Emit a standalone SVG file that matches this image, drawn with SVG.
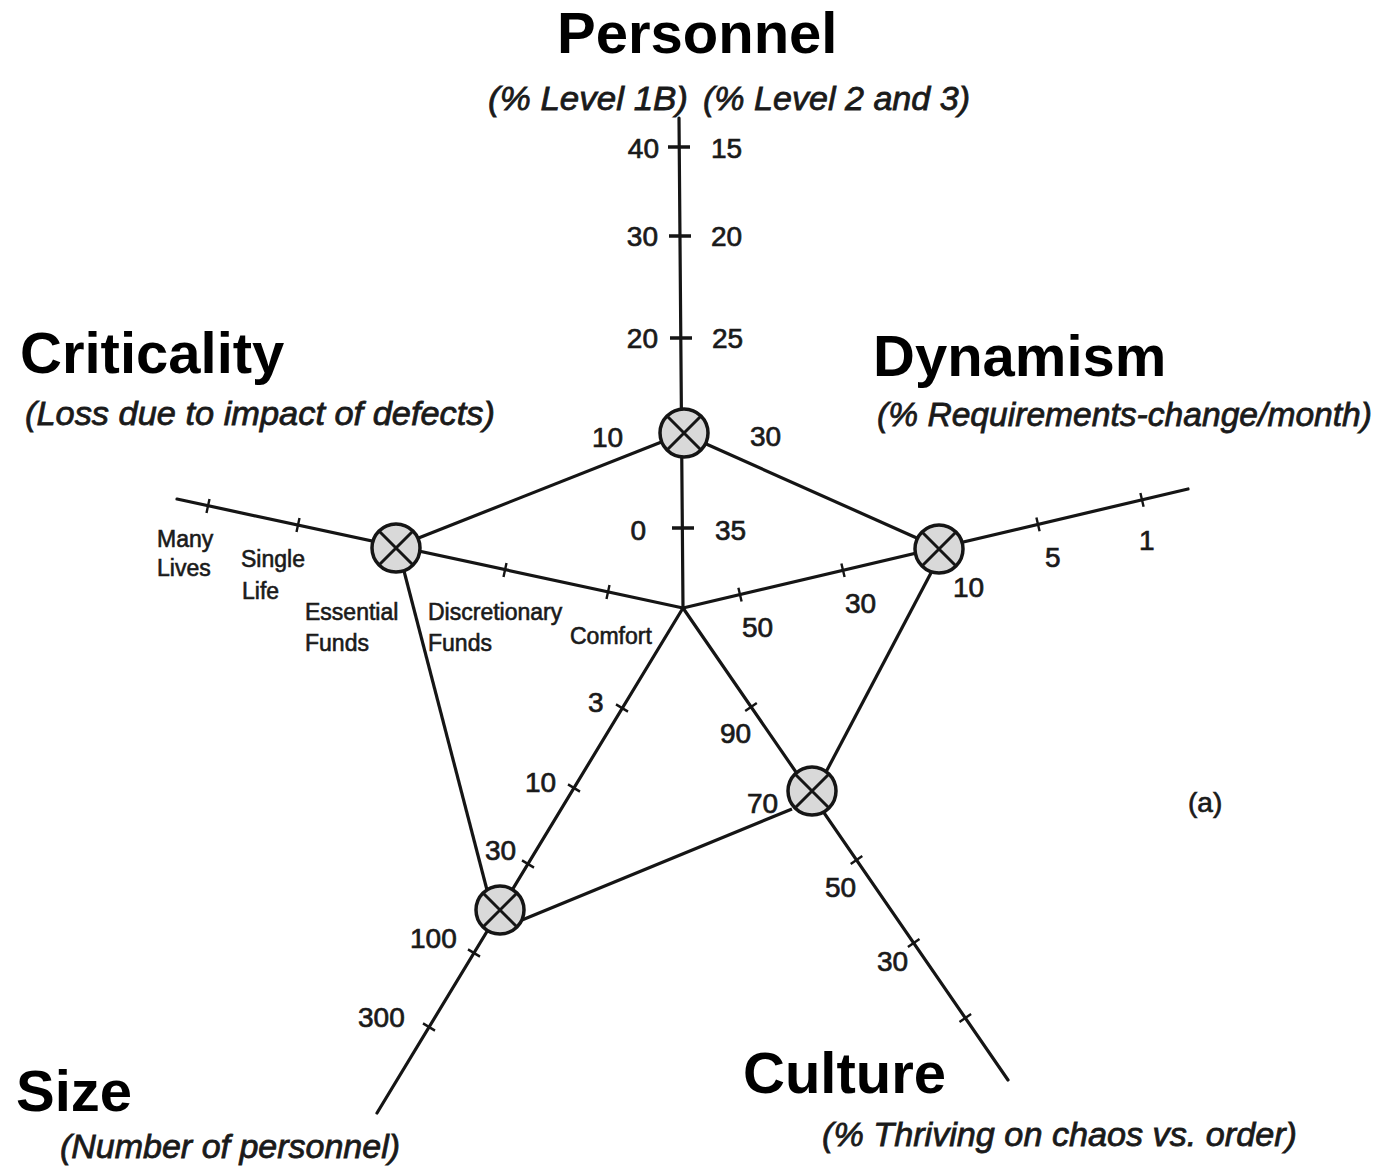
<svg xmlns="http://www.w3.org/2000/svg" xmlns:xlink="http://www.w3.org/1999/xlink" width="1393" height="1170" viewBox="0 0 1393 1170">
<style>
.title{font-family:"Liberation Sans",Arial,sans-serif;font-weight:bold;font-size:58px;fill:#000}
.sub{font-family:"Liberation Sans",Arial,sans-serif;font-style:italic;font-size:34px;fill:#1a1a1a;stroke:#1a1a1a;stroke-width:0.8}
.num{font-family:"Liberation Sans",Arial,sans-serif;font-size:28px;fill:#1a1a1a;stroke:#1a1a1a;stroke-width:0.7}
.lbl{font-family:"Liberation Sans",Arial,sans-serif;font-size:23px;fill:#1a1a1a;stroke:#1a1a1a;stroke-width:0.6}
.axis{stroke:#151515;stroke-width:3.2;fill:none;stroke-linecap:round}
.edge{stroke:#151515;stroke-width:3.2;fill:none}
.tick{stroke:#151515;stroke-width:2.4;fill:none}
.ptick{stroke:#151515;stroke-width:3.5;fill:none}
.node{fill:#d9d9d9;stroke:#151515;stroke-width:3.5}
.cross{stroke:#151515;stroke-width:3;fill:none}
</style>
<defs>
<g id="marker-node">
<circle class="node" cx="0" cy="0" r="24"/>
<path class="cross" d="M-17,-17 L17,17 M17,-17 L-17,17"/>
</g>
</defs>
<rect width="1393" height="1170" fill="#fff"/>

<g id="connectors">
<path class="axis" d="M679,118 L683,608"/>
<path class="axis" d="M683,608 L1188,489"/>
<path class="axis" d="M683,608 L1008,1080"/>
<path class="axis" d="M683,608 L377,1113"/>
<path class="axis" d="M683,608 L177,499"/>
<path class="edge" d="M664,441 L416,539"/>
<path class="edge" d="M704,443 L919,539"/>
<path class="edge" d="M932,571 L826,772"/>
<path class="edge" d="M792,809 L522,920"/>
<path class="edge" d="M404,571 L487,890"/>
<path class="ptick" d="M668,147 L690,147 M669,236 L691,236 M670,338 L692,338 M672,528 L694,528"/>
<path class="tick" d="M206.5,512.9 L209.5,499.1 M296.5,531.9 L299.5,518.1 M503.5,576.9 L506.5,563.1 M606.5,598.9 L609.5,585.1"/>
<path class="tick" d="M738.4,587.8 L741.6,601.4 M841.4,563.5 L844.6,577.1 M1036.4,517.6 L1039.6,531.2 M1140.4,493.1 L1143.6,506.7"/>
<path class="tick" d="M616,704.4 L628,711.6 M568,784.4 L580,791.6 M522,860.4 L534,867.6 M468,949.4 L480,956.6 M423,1023.4 L435,1030.6"/>
<path class="tick" d="M745.2,711 L756.8,703 M850.7,864 L862.3,856 M907.9,947 L919.5,939 M959.5,1022 L971.1,1014"/>
</g>

<g id="node-personnel">
<use xlink:href="#marker-node" x="684" y="433"/>
<text class="title" x="557" y="53">Personnel</text>
<text class="sub" x="488" y="110" textLength="200" lengthAdjust="spacingAndGlyphs">(% Level 1B)</text>
<text class="sub" x="703" y="110" textLength="267" lengthAdjust="spacingAndGlyphs">(% Level 2 and 3)</text>
<text class="num" x="659" y="158" text-anchor="end">40</text>
<text class="num" x="711" y="158">15</text>
<text class="num" x="658" y="246" text-anchor="end">30</text>
<text class="num" x="711" y="246">20</text>
<text class="num" x="658" y="348" text-anchor="end">20</text>
<text class="num" x="712" y="348">25</text>
<text class="num" x="592" y="447">10</text>
<text class="num" x="750" y="446">30</text>
<text class="num" x="646" y="540" text-anchor="end">0</text>
<text class="num" x="715" y="540">35</text>
</g>

<g id="node-dynamism">
<use xlink:href="#marker-node" x="939" y="549"/>
<text class="title" x="873" y="376">Dynamism</text>
<text class="sub" x="877" y="426" textLength="495" lengthAdjust="spacingAndGlyphs">(% Requirements-change/month)</text>
<text class="num" x="742" y="637">50</text>
<text class="num" x="845" y="613">30</text>
<text class="num" x="953" y="597">10</text>
<text class="num" x="1045" y="567">5</text>
<text class="num" x="1139" y="550">1</text>
</g>

<g id="node-culture">
<use xlink:href="#marker-node" x="812" y="791"/>
<text class="title" x="743" y="1093">Culture</text>
<text class="sub" x="822" y="1146" textLength="475" lengthAdjust="spacingAndGlyphs">(% Thriving on chaos vs. order)</text>
<text class="num" x="720" y="743">90</text>
<text class="num" x="747" y="813">70</text>
<text class="num" x="825" y="897">50</text>
<text class="num" x="877" y="971">30</text>
</g>

<g id="node-size">
<use xlink:href="#marker-node" x="500" y="910"/>
<text class="title" x="16" y="1111">Size</text>
<text class="sub" x="60" y="1158" textLength="340" lengthAdjust="spacingAndGlyphs">(Number of personnel)</text>
<text class="num" x="588" y="712">3</text>
<text class="num" x="525" y="792">10</text>
<text class="num" x="485" y="860">30</text>
<text class="num" x="410" y="948">100</text>
<text class="num" x="358" y="1027">300</text>
</g>

<g id="node-criticality">
<use xlink:href="#marker-node" x="396" y="548"/>
<text class="title" x="20" y="373">Criticality</text>
<text class="sub" x="25" y="425" textLength="470" lengthAdjust="spacingAndGlyphs">(Loss due to impact of defects)</text>
<text class="lbl" x="157" y="547">Many</text>
<text class="lbl" x="157" y="576">Lives</text>
<text class="lbl" x="241" y="567">Single</text>
<text class="lbl" x="242" y="599">Life</text>
<text class="lbl" x="305" y="620">Essential</text>
<text class="lbl" x="305" y="651">Funds</text>
<text class="lbl" x="428" y="620">Discretionary</text>
<text class="lbl" x="428" y="651">Funds</text>
<text class="lbl" x="570" y="644">Comfort</text>
</g>

<g id="label-a">
<text class="num" x="1188" y="812">(a)</text>
</g>
</svg>
